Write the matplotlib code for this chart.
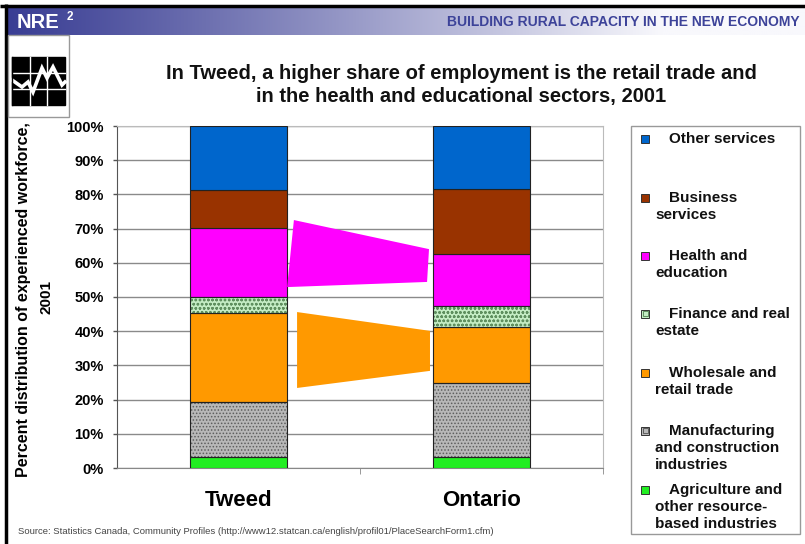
import matplotlib
matplotlib.use('Agg')
import matplotlib.pyplot as plt
import numpy as np
from matplotlib.patches import Rectangle, Polygon

plt.rcParams['font.family'] = ['Liberation Sans', 'DejaVu Sans']
plt.rcParams['hatch.linewidth'] = 0.7

# ---------------- data ----------------
regions = ['Tweed', 'Ontario']
sectors = ['Agriculture and other resource-based industries',
           'Manufacturing and construction industries',
           'Wholesale and retail trade',
           'Finance and real estate',
           'Health and education',
           'Business services',
           'Other services']
tweed = [3.3, 15.9, 26.2, 4.7, 20.2, 11.0, 18.7]
ontario = [3.1, 21.8, 16.2, 6.4, 15.1, 19.1, 18.3]
ytick_vals = [0, 10, 20, 30, 40, 50, 60, 70, 80, 90, 100]
ytick_labels = ['0%', '10%', '20%', '30%', '40%', '50%', '60%', '70%', '80%', '90%', '100%']
legend_lines = [
    ['Other services'],
    ['Business', 'services'],
    ['Health and', 'education'],
    ['Finance and real', 'estate'],
    ['Wholesale and', 'retail trade'],
    ['Manufacturing', 'and construction', 'industries'],
    ['Agriculture and', 'other resource-', 'based industries'],
]
title = ('In Tweed, a higher share of employment is the retail trade and\n'
         'in the health and educational sectors, 2001')
ylabel = 'Percent distribution of experienced workforce,\n2001'
source = 'Source: Statistics Canada, Community Profiles (http://www12.statcan.ca/english/profil01/PlaceSearchForm1.cfm)'

# styles (order: agriculture ... other services)
faces = ['#22ee22', '#b8b8b8', '#ff9900', '#c4ecc4', '#ff00ff', '#993300', '#0066cc']
hatches = [None, '.....', None, 'oooo', None, None, None]
hatch_cols = [None, '#5e5e5e', None, '#5f8f5f', None, None, None]

W, H = 805, 544
fig = plt.figure(figsize=(W / 100, H / 100), dpi=100)
fig.patch.set_facecolor('white')

ax = fig.add_axes([117 / W, (H - 468) / H, 486 / W, 342 / H])
ax.set_xlim(-0.5, 1.5)
ax.set_ylim(0, 100)
ax.set_facecolor('white')

bw = 0.4
x = np.arange(len(regions))
data = np.array([tweed, ontario])
cum = np.cumsum(data, axis=1)
bottoms = cum - data
for j in range(len(sectors)):
    if hatches[j]:
        ax.bar(x, data[:, j], bw, bottom=bottoms[:, j], color=faces[j],
               edgecolor=hatch_cols[j], hatch=hatches[j], linewidth=0, zorder=3)
        ax.bar(x, data[:, j], bw, bottom=bottoms[:, j], fill=False,
               edgecolor='#222222', linewidth=0.8, zorder=4)
    else:
        ax.bar(x, data[:, j], bw, bottom=bottoms[:, j], color=faces[j],
               edgecolor='#222222', linewidth=0.8, zorder=3)

# connector arrows (derived from the segment boundaries)
tl = bw / 2
h_t_top, h_t_bot = cum[0, 4], cum[0, 3]
h_o_top, h_o_bot = cum[1, 4], cum[1, 3]
w_t_top, w_t_bot = cum[0, 2], cum[0, 1]
w_o_top, w_o_bot = cum[1, 2], cum[1, 1]
mag = Polygon([(tl + 0.028, h_t_top + 2.2), (tl, h_t_bot + 2.8),
               (1 - tl - 0.024, h_o_bot + 6.9), (1 - tl - 0.016, h_o_top + 1.4)],
              closed=True, facecolor='#ff00ff', edgecolor='none', zorder=5)
ora = Polygon([(tl + 0.041, w_t_top + 0.2), (tl + 0.041, w_t_bot + 4.2),
               (1 - tl - 0.012, w_o_bot + 3.5), (1 - tl - 0.012, w_o_top - 1.0)],
              closed=True, facecolor='#ff9900', edgecolor='none', zorder=5)
ax.add_patch(mag)
ax.add_patch(ora)

ax.set_yticks(ytick_vals)
ax.set_yticklabels(ytick_labels, fontsize=10.5, fontweight='bold')
ax.yaxis.grid(True, color='#8a8a8a', linewidth=1.0, zorder=0)
ax.set_axisbelow(True)
ax.tick_params(axis='y', direction='out', length=3, width=1, color='#555555', pad=6.5)
ax.set_xticks(x)
ax.set_xticklabels(regions, fontsize=16, fontweight='bold')
ax.set_xticks([0.5, 1.5], minor=True)
ax.tick_params(axis='x', which='major', length=0, pad=16)
ax.tick_params(axis='x', which='minor', direction='out', length=4, color='#888888')
for s in ['top', 'right']:
    ax.spines[s].set_color('#bbbbbb')
ax.spines['left'].set_color('#555555')
ax.spines['bottom'].set_color('#888888')

# ---------------- decorations overlay (pixel coords) ----------------
ov = fig.add_axes([0, 0, 1, 1], zorder=10)
ov.patch.set_alpha(0)
ov.set_axis_off()

# header gradient band
grad_x = np.linspace(0, 1, 400)
c0 = np.array([58, 62, 148]) / 255
c1 = np.array([248, 248, 252]) / 255
t = np.clip(grad_x / 0.82, 0, 1) ** 1.1
row = c0[None, :] * (1 - t[:, None]) + c1[None, :] * t[:, None]
img = np.repeat(row[None, :, :], 2, axis=0)
ov.imshow(img, extent=[7, W, 35, 7], aspect='auto', interpolation='bilinear', zorder=1)
ov.set_xlim(0, W)
ov.set_ylim(H, 0)

# frame lines
ov.plot([0, W], [5.5, 5.5], color='black', lw=2.5, zorder=3, solid_capstyle='butt')
ov.plot([6, 6], [4, H], color='black', lw=2.5, zorder=3, solid_capstyle='butt')

ov.text(17, 23, 'NRE', color='white', fontsize=14.5, fontweight='bold', va='center', ha='left', zorder=4)
ov.text(67, 17, '2', color='white', fontsize=8.5, fontweight='bold', va='center', ha='left', zorder=4)
ov.text(800, 22, 'BUILDING RURAL CAPACITY IN THE NEW ECONOMY', color='#3d4399',
        fontsize=10, fontweight='bold', va='center', ha='right', zorder=4)

# y label
ov.text(24, 300, ylabel.split('\n')[0], rotation=90, fontsize=11.5, fontweight='bold',
        ha='center', va='center', zorder=2)
ov.text(46, 297, ylabel.split('\n')[1], rotation=90, fontsize=11, fontweight='bold',
        ha='center', va='center', zorder=2)

# logo
ov.add_patch(Rectangle((7.5, 35), 61.5, 82, facecolor='white', edgecolor='#999999', lw=1, zorder=5))
ov.add_patch(Rectangle((12, 57), 53, 48, facecolor='black', edgecolor='black', lw=1, zorder=6))
for gx in [12 + 53 / 3, 12 + 2 * 53 / 3]:
    ov.plot([gx, gx], [57, 105], color='white', lw=1, zorder=7)
for gy in [57 + 16, 57 + 32]:
    ov.plot([12, 65], [gy, gy], color='white', lw=1, zorder=7)
zig_x = [12, 22, 28, 33, 42, 47, 53, 62, 65]
zig_y = [80, 87, 82, 92, 68, 78, 67, 85, 82]
ov.plot(zig_x, zig_y, color='white', lw=2.6, zorder=8, solid_joinstyle='miter')
ov.plot([12, 12], [57, 105], color='black', lw=1, zorder=9)

# title
ov.text(461, 85, title, fontsize=14.5, fontweight='bold', ha='center', va='center',
        linespacing=1.25, zorder=4, color='#111111')

# legend
ov.add_patch(Rectangle((631, 126), 169, 408, facecolor='white', edgecolor='#999999', lw=1, zorder=2))
leg_y0 = [139, 198, 256, 314, 373, 431, 490]
leg_order = [6, 5, 4, 3, 2, 1, 0]
for k, j in enumerate(leg_order):
    y0 = leg_y0[k]
    ov.add_patch(Rectangle((641, y0 - 4.5), 8, 8, facecolor=faces[j],
                           edgecolor='#333333', lw=0.7, zorder=3))
    if hatches[j]:
        ov.add_patch(Rectangle((642.5, y0 - 3), 5, 5, facecolor='none',
                               edgecolor=hatch_cols[j], lw=0.7, zorder=4))
    for i, line in enumerate(legend_lines[k]):
        xx = 669 if i == 0 else 655
        ov.text(xx, y0 + i * 17, line, fontsize=11, fontweight='bold', ha='left',
                va='center', zorder=4, color='#111111')

# source
ov.text(18, 531, source, fontsize=6.8, ha='left', va='center', color='#444444', zorder=4)

fig.savefig('out.png', dpi=100, facecolor='white')
